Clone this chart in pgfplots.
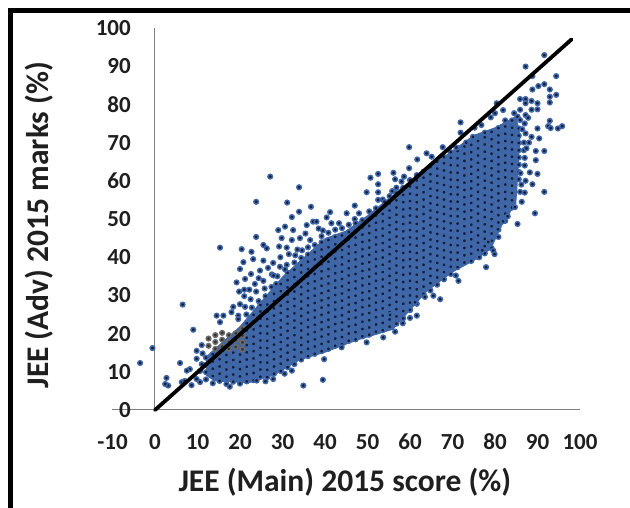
\documentclass[border=0pt]{standalone}
\usepackage{fontspec}
\setmainfont{Carlito}
\usepackage{pgfplots}
\pgfplotsset{compat=1.18}
\definecolor{dotblue}{HTML}{3F66A6}
\definecolor{dotdark}{HTML}{131D3C}
\definecolor{axisgray}{HTML}{808080}
\begin{document}
\begin{tikzpicture}[x=1pt,y=1pt]
\useasboundingbox (0,0) rectangle (630,508);
\draw[black,line width=4.6pt] (10.3,0) -- (10.3,497.7) -- (630,497.7);
\begin{axis}[
    at={(112.5pt,98pt)},anchor=south west,
    scale only axis,width=467.5pt,height=382pt,
    xmin=-10,xmax=100,ymin=0,ymax=100,
    axis lines=middle,
    axis line style={axisgray,line width=1pt,-},
    hide obscured x ticks=false,hide obscured y ticks=false,
    major tick length=0pt,
    xtick={-10,0,10,20,30,40,50,60,70,80,90,100},
    xticklabels={-10,0,10,20,30,40,50,60,70,80,90,100},
    ytick={0,10,20,30,40,50,60,70,80,90,100},
    yticklabels={0,10,20,30,40,50,60,70,80,90,100},
    ticklabel style={font=\fontsize{23}{28}\selectfont\bfseries,text=black!88,inner sep=0pt},
    xticklabel style={anchor=center,yshift=-32pt},
    yticklabel style={anchor=east,xshift=-24pt},
    xlabel={JEE (Main) 2015 score (\%)},
    ylabel={JEE (Adv) 2015 marks (\%)},
    label style={font=\fontsize{31.5}{36}\selectfont\bfseries,text=black!88},
    xlabel style={at={(axis description cs:0.497,-0.188)},anchor=center},
    ylabel style={at={(axis description cs:-0.157,0.484)},anchor=center,rotate=90},
    clip=false,clip mode=individual,
]
% blue behind the dense part of the cloud
\addplot[fill=dotblue,draw=none] coordinates {(12,9)(14,7.5)(22,7)(28,9)(34,13)(40,15)(47,18)(56,21)(60,26)(64,31)(70,36)(75,39)(79,42)(82,49)(85,54)(85.5,62)(86,72)(85,77)(80,74)(75,72)(70,68)(60,60)(50,51)(45,47)(40,45)(30,35)(20,22)(12,14)} -- cycle;
% dense part
\addplot[only marks,mark=*,mark size=2.3pt,mark options={fill=dotdark,draw=dotblue,line width=1.5pt}] coordinates {
(12,8)(12,9.9)(12,11.8)(12,13.7)
(13.6,7)(13.6,8.9)(13.6,10.8)(13.6,12.7)(13.6,14.6)
(15.2,7.6)(15.2,9.5)(15.2,11.4)(15.2,13.3)(15.2,15.2)
(16.8,6.8)(16.8,8.7)(16.8,10.6)(16.8,12.5)(16.8,14.4)
(18.4,7.4)(18.4,9.3)(18.4,11.2)(18.4,13.1)(18.4,15)
(20,6.9)(20,8.8)(20,10.7)(20,12.6)(20,14.5)
(21.6,7.5)(21.6,9.4)(21.6,11.3)(21.6,13.2)(21.6,15.1)(21.6,17)(21.6,18.9)(21.6,20.8)(21.6,22.7)
(23.2,7.8)(23.2,9.7)(23.2,11.6)(23.2,13.5)(23.2,15.4)(23.2,17.3)(23.2,19.2)(23.2,21.1)(23.2,23)(23.2,24.9)
(24.8,8.7)(24.8,10.6)(24.8,12.5)(24.8,14.4)(24.8,16.3)(24.8,18.2)(24.8,20.1)(24.8,22)(24.8,23.9)(24.8,25.8)(24.8,27.5)
(26.4,8.6)(26.4,10.5)(26.4,12.4)(26.4,14.3)(26.4,16.2)(26.4,18.1)(26.4,20)(26.4,21.9)(26.4,23.8)(26.4,25.7)(26.4,27.6)
(28,9.5)(28,11.4)(28,13.3)(28,15.2)(28,17.1)(28,19)(28,20.9)(28,22.8)(28,24.7)(28,26.6)(28,28.5)(28,30.4)
(29.6,10.2)(29.6,12.1)(29.6,14)(29.6,15.9)(29.6,17.8)(29.6,19.7)(29.6,21.6)(29.6,23.5)(29.6,25.4)(29.6,27.3)(29.6,29.2)(29.6,31.1)(29.6,33)
(31.2,11.2)(31.2,13.1)(31.2,15)(31.2,16.9)(31.2,18.8)(31.2,20.7)(31.2,22.6)(31.2,24.5)(31.2,26.4)(31.2,28.3)(31.2,30.2)(31.2,32.1)(31.2,34)(31.2,35.9)
(32.8,12)(32.8,13.9)(32.8,15.8)(32.8,17.7)(32.8,19.6)(32.8,21.5)(32.8,23.4)(32.8,25.3)(32.8,27.2)(32.8,29.1)(32.8,31)(32.8,32.9)(32.8,34.8)(32.8,36.7)(32.8,38.6)
(34.4,13.2)(34.4,15.1)(34.4,17)(34.4,18.9)(34.4,20.8)(34.4,22.7)(34.4,24.6)(34.4,26.5)(34.4,28.4)(34.4,30.3)(34.4,32.2)(34.4,34.1)(34.4,36)(34.4,37.9)(34.4,39.8)
(36,14.1)(36,16)(36,17.9)(36,19.8)(36,21.7)(36,23.6)(36,25.5)(36,27.4)(36,29.3)(36,31.2)(36,33.1)(36,35)(36,36.9)(36,38.8)(36,40.7)(36,42.6)
(37.6,14.7)(37.6,16.6)(37.6,18.5)(37.6,20.4)(37.6,22.3)(37.6,24.2)(37.6,26.1)(37.6,28)(37.6,29.9)(37.6,31.8)(37.6,33.7)(37.6,35.6)(37.6,37.5)(37.6,39.4)(37.6,41.3)(37.6,43.2)
(39.2,15.4)(39.2,17.3)(39.2,19.2)(39.2,21.1)(39.2,23)(39.2,24.9)(39.2,26.8)(39.2,28.7)(39.2,30.6)(39.2,32.5)(39.2,34.4)(39.2,36.3)(39.2,38.2)(39.2,40.1)(39.2,42)(39.2,43.9)(39.2,45.5)
(40.8,16)(40.8,17.9)(40.8,19.8)(40.8,21.7)(40.8,23.6)(40.8,25.5)(40.8,27.4)(40.8,29.3)(40.8,31.2)(40.8,33.1)(40.8,35)(40.8,36.9)(40.8,38.8)(40.8,40.7)(40.8,42.6)(40.8,44.5)(40.8,46.4)
(42.4,16.8)(42.4,18.7)(42.4,20.6)(42.4,22.5)(42.4,24.4)(42.4,26.3)(42.4,28.2)(42.4,30.1)(42.4,32)(42.4,33.9)(42.4,35.8)(42.4,37.7)(42.4,39.6)(42.4,41.5)(42.4,43.4)(42.4,45.3)(42.4,47.2)
(44,17.2)(44,19.1)(44,21)(44,22.9)(44,24.8)(44,26.7)(44,28.6)(44,30.5)(44,32.4)(44,34.3)(44,36.2)(44,38.1)(44,40)(44,41.9)(44,43.8)(44,45.7)(44,47.6)
(45.6,18.1)(45.6,20)(45.6,21.9)(45.6,23.8)(45.6,25.7)(45.6,27.6)(45.6,29.5)(45.6,31.4)(45.6,33.3)(45.6,35.2)(45.6,37.1)(45.6,39)(45.6,40.9)(45.6,42.8)(45.6,44.7)(45.6,46.6)(45.6,48.5)
(47.2,18.5)(47.2,20.4)(47.2,22.3)(47.2,24.2)(47.2,26.1)(47.2,28)(47.2,29.9)(47.2,31.8)(47.2,33.7)(47.2,35.6)(47.2,37.5)(47.2,39.4)(47.2,41.3)(47.2,43.2)(47.2,45.1)(47.2,47)(47.2,48.9)
(48.8,19.3)(48.8,21.2)(48.8,23.1)(48.8,25)(48.8,26.9)(48.8,28.8)(48.8,30.7)(48.8,32.6)(48.8,34.5)(48.8,36.4)(48.8,38.3)(48.8,40.2)(48.8,42.1)(48.8,44)(48.8,45.9)(48.8,47.8)(48.8,49.7)
(50.4,19.7)(50.4,21.6)(50.4,23.5)(50.4,25.4)(50.4,27.3)(50.4,29.2)(50.4,31.1)(50.4,33)(50.4,34.9)(50.4,36.8)(50.4,38.7)(50.4,40.6)(50.4,42.5)(50.4,44.4)(50.4,46.3)(50.4,48.2)(50.4,50.1)(50.4,52)
(52,20.5)(52,22.4)(52,24.3)(52,26.2)(52,28.1)(52,30)(52,31.9)(52,33.8)(52,35.7)(52,37.6)(52,39.5)(52,41.4)(52,43.3)(52,45.2)(52,47.1)(52,49)(52,50.9)(52,52.8)
(53.6,20.9)(53.6,22.8)(53.6,24.7)(53.6,26.6)(53.6,28.5)(53.6,30.4)(53.6,32.3)(53.6,34.2)(53.6,36.1)(53.6,38)(53.6,39.9)(53.6,41.8)(53.6,43.7)(53.6,45.6)(53.6,47.5)(53.6,49.4)(53.6,51.3)(53.6,53.2)(53.6,55.1)
(55.2,21.8)(55.2,23.7)(55.2,25.6)(55.2,27.5)(55.2,29.4)(55.2,31.3)(55.2,33.2)(55.2,35.1)(55.2,37)(55.2,38.9)(55.2,40.8)(55.2,42.7)(55.2,44.6)(55.2,46.5)(55.2,48.4)(55.2,50.3)(55.2,52.2)(55.2,54.1)(55.2,56)
(56.8,22.6)(56.8,24.5)(56.8,26.4)(56.8,28.3)(56.8,30.2)(56.8,32.1)(56.8,34)(56.8,35.9)(56.8,37.8)(56.8,39.7)(56.8,41.6)(56.8,43.5)(56.8,45.4)(56.8,47.3)(56.8,49.2)(56.8,51.1)(56.8,53)(56.8,54.9)(56.8,56.8)(56.8,58.2)
(58.4,24)(58.4,25.9)(58.4,27.8)(58.4,29.7)(58.4,31.6)(58.4,33.5)(58.4,35.4)(58.4,37.3)(58.4,39.2)(58.4,41.1)(58.4,43)(58.4,44.9)(58.4,46.8)(58.4,48.7)(58.4,50.6)(58.4,52.5)(58.4,54.4)(58.4,56.3)(58.4,58.2)
(60,26.2)(60,28.1)(60,30)(60,31.9)(60,33.8)(60,35.7)(60,37.6)(60,39.5)(60,41.4)(60,43.3)(60,45.2)(60,47.1)(60,49)(60,50.9)(60,52.8)(60,54.7)(60,56.6)(60,58.5)(60,60.2)
(61.6,27.8)(61.6,29.7)(61.6,31.6)(61.6,33.5)(61.6,35.4)(61.6,37.3)(61.6,39.2)(61.6,41.1)(61.6,43)(61.6,44.9)(61.6,46.8)(61.6,48.7)(61.6,50.6)(61.6,52.5)(61.6,54.4)(61.6,56.3)(61.6,58.2)(61.6,60.1)(61.6,61.5)
(63.2,30.4)(63.2,32.3)(63.2,34.2)(63.2,36.1)(63.2,38)(63.2,39.9)(63.2,41.8)(63.2,43.7)(63.2,45.6)(63.2,47.5)(63.2,49.4)(63.2,51.3)(63.2,53.2)(63.2,55.1)(63.2,57)(63.2,58.9)(63.2,60.8)(63.2,62.4)
(64.8,31.3)(64.8,33.2)(64.8,35.1)(64.8,37)(64.8,38.9)(64.8,40.8)(64.8,42.7)(64.8,44.6)(64.8,46.5)(64.8,48.4)(64.8,50.3)(64.8,52.2)(64.8,54.1)(64.8,56)(64.8,57.9)(64.8,59.8)(64.8,61.7)(64.8,63.6)
(66.4,32.8)(66.4,34.7)(66.4,36.6)(66.4,38.5)(66.4,40.4)(66.4,42.3)(66.4,44.2)(66.4,46.1)(66.4,48)(66.4,49.9)(66.4,51.8)(66.4,53.7)(66.4,55.6)(66.4,57.5)(66.4,59.4)(66.4,61.3)(66.4,63.2)(66.4,65)
(68,34.2)(68,36.1)(68,38)(68,39.9)(68,41.8)(68,43.7)(68,45.6)(68,47.5)(68,49.4)(68,51.3)(68,53.2)(68,55.1)(68,57)(68,58.9)(68,60.8)(68,62.7)(68,64.6)(68,66.2)
(69.6,35.6)(69.6,37.5)(69.6,39.4)(69.6,41.3)(69.6,43.2)(69.6,45.1)(69.6,47)(69.6,48.9)(69.6,50.8)(69.6,52.7)(69.6,54.6)(69.6,56.5)(69.6,58.4)(69.6,60.3)(69.6,62.2)(69.6,64.1)(69.6,66)(69.6,67.5)
(71.2,37.4)(71.2,39.3)(71.2,41.2)(71.2,43.1)(71.2,45)(71.2,46.9)(71.2,48.8)(71.2,50.7)(71.2,52.6)(71.2,54.5)(71.2,56.4)(71.2,58.3)(71.2,60.2)(71.2,62.1)(71.2,64)(71.2,65.9)(71.2,67.8)
(72.8,38.6)(72.8,40.5)(72.8,42.4)(72.8,44.3)(72.8,46.2)(72.8,48.1)(72.8,50)(72.8,51.9)(72.8,53.8)(72.8,55.7)(72.8,57.6)(72.8,59.5)(72.8,61.4)(72.8,63.3)(72.8,65.2)(72.8,67.1)(72.8,69)
(74.4,39)(74.4,40.9)(74.4,42.8)(74.4,44.7)(74.4,46.6)(74.4,48.5)(74.4,50.4)(74.4,52.3)(74.4,54.2)(74.4,56.1)(74.4,58)(74.4,59.9)(74.4,61.8)(74.4,63.7)(74.4,65.6)(74.4,67.5)(74.4,69.4)
(76,40)(76,41.9)(76,43.8)(76,45.7)(76,47.6)(76,49.5)(76,51.4)(76,53.3)(76,55.2)(76,57.1)(76,59)(76,60.9)(76,62.8)(76,64.7)(76,66.6)(76,68.5)(76,70.4)
(77.6,41)(77.6,42.9)(77.6,44.8)(77.6,46.7)(77.6,48.6)(77.6,50.5)(77.6,52.4)(77.6,54.3)(77.6,56.2)(77.6,58.1)(77.6,60)(77.6,61.9)(77.6,63.8)(77.6,65.7)(77.6,67.6)(77.6,69.5)(77.6,71.4)
(79.2,42.4)(79.2,44.3)(79.2,46.2)(79.2,48.1)(79.2,50)(79.2,51.9)(79.2,53.8)(79.2,55.7)(79.2,57.6)(79.2,59.5)(79.2,61.4)(79.2,63.3)(79.2,65.2)(79.2,67.1)(79.2,69)(79.2,70.9)(79.2,72.8)
(80.8,45.3)(80.8,47.2)(80.8,49.1)(80.8,51)(80.8,52.9)(80.8,54.8)(80.8,56.7)(80.8,58.6)(80.8,60.5)(80.8,62.4)(80.8,64.3)(80.8,66.2)(80.8,68.1)(80.8,70)(80.8,71.9)(80.8,73.8)
(82.4,49.5)(82.4,51.4)(82.4,53.3)(82.4,55.2)(82.4,57.1)(82.4,59)(82.4,60.9)(82.4,62.8)(82.4,64.7)(82.4,66.6)(82.4,68.5)(82.4,70.4)(82.4,72.3)(82.4,74.2)(82.4,75.8)
(84,53)(84,54.9)(84,56.8)(84,58.7)(84,60.6)(84,62.5)(84,64.4)(84,66.3)(84,68.2)(84,70.1)(84,72)(84,73.9)(84,75.8)
(85.6,60.4)(85.6,62.3)(85.6,64.2)(85.6,66.1)(85.6,68)(85.6,69.9)(85.6,71.8)(85.6,73.7)
};
% grey patch beside the line
\addplot[only marks,mark=*,mark size=2.3pt,mark options={fill=black!80,draw=black!58,line width=1.5pt}] coordinates {
(12.6,16.8)(12.6,18.7)(14.2,16)(14.2,17.8)(14.2,19.6)(15.8,16.6)(15.8,18.4)(15.8,20.2)(17.4,16)(17.4,17.8)(17.4,19.6)(19,16.5)(19,18.3)(19,20.1)(20.6,15.9)(20.6,17.7)(20.6,19.5)(20.6,21.3)
};
% scattered points off the main body
\addplot[only marks,mark=*,mark size=2.3pt,mark options={fill=dotdark,draw=dotblue,line width=1.5pt}] coordinates {
(27.1,61.1)(33.9,58.3)(23.8,54.5)(31.1,54.3)(36.7,53.2)(33.9,51.9)(32.2,50.5)(23.8,45.3)(15.3,42.5)(20.4,42.1)(22.7,41.4)(25.5,43.2)(26.3,42.3)
(29,47.1)(30.6,48)(32.5,47.1)(29.8,45)(32.2,44.5)(34.1,45)(36.5,44.5)(35.7,48.4)(37.2,49.3)(31,42.5)(33.5,42)(29.2,42.8)(35.4,46.2)(31.5,40.8)(29.5,40)(27.8,38.5)(29.4,37.5)(31,38)(33,40.5)(38.5,47.5)(34.6,41.8)(27.5,35.5)(28.8,35)(30.6,36.8)
(6.5,27.6)(9,21)(-0.6,16.2)(-3.5,12.3)(5.9,12.3)(9.8,15.5)(9.8,13.4)(8.2,10.7)(7.5,10.3)(2.7,8.4)(3.1,6.4)(2.4,6.8)(6.3,7.3)(7,7.6)(8.6,6.5)(10.6,7.3)(9.8,8.1)(10.6,10.2)(11,12)(11.2,14.8)(11,17)
(34.9,6.4)(39.5,7.9)(32.2,10.3)(27.8,8.1)(23.9,7.7)(17.6,6.1)(30.5,9.5)(26,7.5)
(14.5,24.7)(16.1,24.7)(18,25.6)(19.6,24.7)(15.3,23)(19.6,23.8)(18.4,27)(20,27.7)(19.2,33.4)(21.2,34.3)(20,36.9)(23.1,39.5)(25.5,39.1)(20.8,38.7)(24.7,36.5)(25.5,33.8)(27.9,35.2)
(21.5,25)(21.2,27)(22.8,26.8)(22.5,29)(21,29.8)(23.8,31)(22.2,31.5)(24.4,28.5)(26,29.8)(25.8,31.8)(27.4,32.2)(23.5,33)(22.6,35.6)(24.4,34.5)(26.6,37.2)(28.5,33)(21,31.5)(19.8,31)
(91.6,92.9)(87.2,89.9)(88.8,87.4)(94.4,87.4)(88.8,83.9)(90.2,84.8)(91.6,85.3)(92.9,83.9)(94.4,82.5)(92.9,82)(92.9,80.5)
(85.9,81.4)(87.2,81.4)(88.6,80.9)(90,80.3)(87.2,80.3)(90,78.7)(88.6,78.6)(85.9,78.6)(81.9,78.5)(80.4,80.3)(80,77.7)(79,76.6)(84.5,77.7)(85.3,76.8)(87.2,77.2)(85.9,75.9)(87,75)(87.8,76.5)(86.4,73.5)
(92.9,75.7)(92.5,74.3)(93.1,73.8)(94.8,73.7)(95.8,74.3)(90,73.7)(90.4,71.1)(88.6,71.5)(87.2,72.4)(88,70)(86.8,70)(86.8,68)
(89.6,67.8)(91.6,67.8)(89.6,65.4)(87,64)(88.2,62.2)(90,61.8)(88.8,59.1)(91.6,57.1)(87,56.9)(85.9,57.1)(86.3,54.5)(84.7,53.1)(89.4,51.5)(85.3,48.7)(83,50.7)(81.9,49.4)(80.7,47.3)(78.4,44)(79.6,41.7)(77,41.8)
(87,66)(87.2,60)(86,62)(86.2,59)(87.4,68.5)
(76.3,40)(77.9,37.4)(79.9,40.8)(70.8,35.2)(71.4,33.8)(67.1,29)(63.5,29.6)(65.5,29.9)(61.2,28.2)(60,26.2)(60,24.1)(61.6,24.7)(58.3,22.7)(55.3,24.9)(56.5,20.5)(53.7,19)(49.8,17.7)(43.9,16.4)(39.8,13.3)
(71.9,75.3)(71.9,72.6)(59.8,68.8)(67.7,68.8)(63.9,67.2)(65.1,66.3)(61.7,65.6)(59.8,63.3)(56.1,62.1)(52.5,61.8)(50.7,60.8)(58.6,61.1)(56.5,60.4)(58,59.8)(52.5,59.1)(49.8,57)(52.5,57)(55.8,57.3)(47,53.5)(52.5,55)(54,54.5)(41.2,51.8)(45.1,51.5)(40.4,50.4)(48,51.5)(47,50)(43.3,48.9)(41.5,48.9)(38,49.3)(39.5,47)
(76.8,74.6)(75.2,73.9)(77.6,72.6)(74.8,71.5)(73.2,70)(70.9,68.7)
};
\addplot[black,line width=3.8pt,line cap=round] coordinates {(0,0)(98,97)};
\end{axis}
\end{tikzpicture}
\end{document}
